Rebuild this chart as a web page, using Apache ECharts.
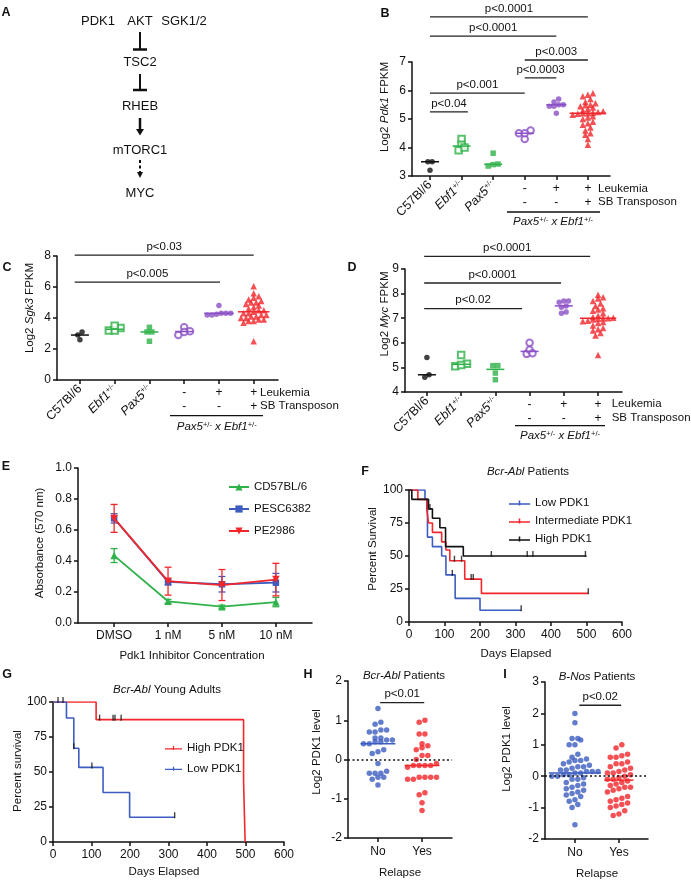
<!DOCTYPE html>
<html><head><meta charset="utf-8">
<script src="https://cdn.jsdelivr.net/npm/echarts@6/dist/echarts.min.js"></script>
<style>html,body{margin:0;padding:0;background:#fff}#c{width:691px;height:883px}</style>
</head><body><div id="c"></div>
<script>
// ================= DATA =================
const groupLabels = ['C57Bl/6', 'Ebf1', 'Pax5'];
const rowLeukemia = ['', '', '', '-', '+', '+'];
const rowSB = ['', '', '', '-', '-', '+'];

// Panel B: Log2 Pdk1 FPKM
const pdk1_C57 = [3.5, 3.5, 3.2];
const pdk1_Ebf1 = [4.3, 4.1, 3.9, 4.0];
const pdk1_Pax5 = [3.8, 3.35, 3.4, 3.42];
const pdk1_PE = [4.6, 4.5, 4.3, 4.5];
const pdk1_PELeuk = [5.7, 5.5, 5.5, 5.6, 5.45, 5.45, 5.2];
const pdk1_SB = [5.9, 5.85, 5.8, 5.7, 5.6, 5.55, 5.5, 5.48, 5.45, 5.4, 5.35, 5.3, 5.27, 5.25, 5.22, 5.2, 5.18, 5.2, 5.15, 5.1, 5.05, 5.0, 4.9, 4.85, 4.8, 4.7, 4.6, 4.5, 4.45, 4.3, 4.1];
const pdk1SigPairs = [[0, 5], [0, 4], [3, 5], [3, 4], [0, 3], [0, 1.2]];
const pdk1SigLevels = [8.58, 7.91, 7.07, 6.44, 5.91, 5.25];
const pdk1SigLabels = ['p<0.0001', 'p<0.0001', 'p<0.003', 'p<0.0003', 'p<0.001', 'p<0.04'];

// Panel C: Log2 Sgk3 FPKM
const sgk3_C57 = [3.1, 2.9, 2.6];
const sgk3_Ebf1 = [3.2, 3.35, 3.2, 3.5];
const sgk3_Pax5 = [3.4, 3.1, 3.1, 2.5];
const sgk3_PE = [3.4, 2.9, 3.15, 3.1];
const sgk3_PELeuk = [4.8, 4.3, 4.2, 4.3, 4.25, 4.2, 4.3];
const sgk3_SB = [6.05, 5.6, 5.4, 5.3, 5.2, 5.1, 5.0, 5.0, 4.9, 4.8, 4.7, 4.6, 4.5, 4.5, 4.4, 4.3, 4.3, 4.2, 4.2, 4.1, 4.1, 4.0, 4.0, 3.9, 3.9, 3.8, 3.8, 3.7, 2.5];
const sgk3SigPairs = [[-0.15, 5], [-0.15, 4.03]];
const sgk3SigLevels = [8.06, 6.32];
const sgk3SigLabels = ['p<0.03', 'p<0.005'];

// Panel D: Log2 Myc FPKM
const myc_C57 = [5.4, 4.6, 4.7];
const myc_Ebf1 = [5.5, 5.05, 5.15, 5.1];
const myc_Pax5 = [5.07, 5.07, 4.77, 4.5];
const myc_PE = [6.0, 5.55, 5.72, 5.58];
const myc_PELeuk = [7.7, 7.7, 7.65, 7.5, 7.45, 7.2, 7.25];
const myc_SB = [7.95, 7.85, 7.8, 7.7, 7.6, 7.5, 7.4, 7.35, 7.3, 7.2, 7.1, 7.05, 7.02, 7.0, 7.0, 6.98, 6.95, 6.9, 6.88, 6.85, 6.8, 6.7, 6.6, 6.55, 6.5, 6.4, 6.3, 5.5];
const mycSigPairs = [[-0.08, 4.77], [-0.08, 3.92], [-0.08, 2.78]];
const mycSigLevels = [9.51, 8.43, 7.39];
const mycSigLabels = ['p<0.0001', 'p<0.0001', 'p<0.02'];

// Panel E: absorbance
const eDoses = ['DMSO', '1 nM', '5 nM', '10 nM'];
const eNames = ['CD57BL/6', 'PESC6382', 'PE2986'];
const eCD57 = [0.435, 0.14, 0.105, 0.135];
const eCD57Err = [0.045, 0.012, 0.01, 0.03];
const ePESC = [0.675, 0.265, 0.25, 0.26];
const ePESCErr = [0.03, 0.02, 0.05, 0.06];
const ePE = [0.675, 0.27, 0.245, 0.28];
const ePEErr = [0.09, 0.09, 0.1, 0.105];

// Panel F: Bcr-Abl patients survival
const fLowT = [0, 45, 52, 66, 92, 104, 130, 200, 316];
const fLowS = [100, 92.9, 64.3, 57.1, 50, 35.7, 17.9, 8.9, 8.9];
const fLowCensT = [122, 316];
const fLowCensS = [35.7, 8.9];
const fIntT = [0, 25, 50, 55, 66, 92, 104, 115, 157, 204, 505];
const fIntS = [100, 92.9, 85.7, 75, 67.9, 60.7, 54.6, 46.4, 32.5, 21.7, 21.7];
const fIntCensT = [128, 148, 175, 181, 505];
const fIntCensS = [46.4, 46.4, 32.5, 32.5, 21.7];
const fHighT = [0, 8, 55, 66, 87, 103, 153, 500];
const fHighS = [100, 92.9, 85.7, 78.6, 71.4, 57.1, 50, 50];
const fHighCensT = [59, 232, 333, 349, 497];
const fHighCensS = [85.7, 50, 50, 50, 50];

// Panel G: Bcr-Abl young adults survival
const gHighT = [0, 112, 495, 499];
const gHighS = [100, 87.4, 43.7, 0];
const gHighCensT = [13, 26, 121, 156, 161, 177];
const gHighCensS = [100, 100, 87.4, 87.4, 87.4, 87.4];
const gLowT = [0, 35, 54, 67, 130, 199, 316];
const gLowS = [100, 88.6, 67, 53.3, 35.4, 17.7, 17.7];
const gLowCensT = [54, 101, 316];
const gLowCensS = [67, 53.3, 17.7];

// Panel H: Bcr-Abl Log2 PDK1 level by relapse
const relapseLabels = ['No', 'Yes'];
const hNo = [1.3, 0.95, 0.9, 0.75, 0.75, 0.7, 0.7, 0.55, 0.55, 0.5, 0.5, 0.45, 0.4, 0.4, 0.45, 0.25, 0.2, 0.15, -0.1, -0.3, -0.35, -0.35, -0.35, -0.45, -0.45, -0.5, -0.65];
const hYes = [1.0, 0.95, 0.65, 0.65, 0.4, 0.35, 0.3, 0.25, 0.1, 0.1, 0.0, -0.1, -0.15, -0.15, -0.15, -0.2, -0.15, -0.45, -0.45, -0.45, -0.5, -0.45, -0.5, -0.85, -0.9, -1.1, -1.3];
const hSigPairs = [[0.05, 1.05]];
const hSigLevels = [1.45];
const hSigLabels = ['p<0.01'];

// Panel I: B-Nos Log2 PDK1 level by relapse
const iNo = [2.0, 1.7, 1.2, 1.2, 1.15, 1.0, 1.0, 0.7, 0.6, 0.55, 0.5, 0.5, 0.45, 0.4, 0.35, 0.3, 0.3, 0.25, 0.2, 0.2, 0.15, 0.15, 0.15, 0.1, 0.1, 0.05, 0.05, 0.0, 0.0, -0.05, -0.1, -0.1, -0.2, -0.25, -0.3, -0.35, -0.4, -0.45, -0.5, -0.55, -0.6, -0.65, -0.75, -0.8, -0.9, -1.0, -1.55];
const iYes = [1.0, 0.9, 0.7, 0.65, 0.6, 0.6, 0.45, 0.4, 0.4, 0.3, 0.25, 0.2, 0.15, 0.1, 0.1, 0.05, 0.0, -0.05, -0.1, -0.1, -0.15, -0.2, -0.25, -0.3, -0.35, -0.35, -0.4, -0.45, -0.5, -0.65, -0.7, -0.75, -0.8, -0.85, -0.9, -0.95, -1.0, -1.1, -1.2, -1.25];
const iSigPairs = [[0.1, 1.05]];
const iSigLevels = [2.26];
const iSigLabels = ['p<0.02'];

// ================= STYLE / LAYOUT =================
const FONT = '"Liberation Sans", Arial, Helvetica, sans-serif';
const INK = '#111';
const GREEN = '#2fb24a', PURPLE = '#8a4fc4', RED = '#f2262b', BLUE = '#3c5cc0';
function fnt(size, style) { return (style ? style + ' ' : '') + size + 'px ' + FONT; }

const GEO = {
  B: {left: 412, top: 62, width: 198, height: 114, xmin: -0.57, xmax: 5.7, ymin: 3, ymax: 7, yint: 1},
  C: {left: 57, top: 256, width: 221, height: 124, xmin: -0.66, xmax: 5.7, ymin: 0, ymax: 8, yint: 2},
  D: {left: 405, top: 269, width: 217, height: 123, xmin: -0.64, xmax: 5.7, ymin: 4, ymax: 9, yint: 1},
  E: {left: 78, top: 468, width: 234, height: 155, xmin: -0.67, xmax: 3.67, ymin: 0, ymax: 1, yint: 0.2},
  F: {left: 409, top: 490, width: 213, height: 132, xmin: 0, xmax: 600, ymin: 0, ymax: 100, yint: 25},
  G: {left: 53, top: 702, width: 231, height: 140, xmin: 0, xmax: 600, ymin: 0, ymax: 100, yint: 25},
  H: {left: 348, top: 681, width: 104, height: 157, xmin: -0.68, xmax: 1.68, ymin: -2, ymax: 2, yint: 1},
  I: {left: 545, top: 682, width: 103, height: 157, xmin: -0.68, xmax: 1.66, ymin: -2, ymax: 3, yint: 1}
};
const ORDER = ['B', 'C', 'D', 'E', 'F', 'G', 'H', 'I'];

const DOT_STYLES = [
  {symbol: 'circle', color: INK, size: 5.5, bin: 0.6, dx: 0.78},
  {symbol: 'emptyRect', color: GREEN, size: 6.5, bin: 0.6, dx: 0.9},
  {symbol: 'rect', color: GREEN, size: 5.5, bin: 0.6, dx: 0.9},
  {symbol: 'emptyCircle', color: PURPLE, size: 6.5, bin: 0.6, dx: 0.9},
  {symbol: 'circle', color: PURPLE, size: 5.5, bin: 0.6, dx: 0.85},
  {symbol: 'triangle', color: RED, size: 6.5, bin: 0.6, dx: 0.78}
];
const REL_STYLES = [
  {symbol: 'circle', color: BLUE, size: 5.5, bin: 1.0, dx: 1.05},
  {symbol: 'circle', color: RED, size: 5.5, bin: 1.0, dx: 1.05}
];

const richLbl = {
  n: {fontSize: 12.5, fontFamily: FONT, color: INK},
  i: {fontSize: 12.5, fontFamily: FONT, fontStyle: 'italic', color: INK},
  s: {fontSize: 7.5, fontFamily: FONT, color: INK, verticalAlign: 'top'}
};
const richT = {
  a: {font: fnt(11.5), fill: INK},
  i: {font: fnt(11.5, 'italic'), fill: INK},
  s: {font: fnt(7.5), fill: INK, verticalAlign: 'top'}
};

// ================= HELPERS =================
function median(arr) {
  const s = arr.slice().sort((a, b) => a - b);
  const m = Math.floor(s.length / 2);
  return s.length % 2 ? s[m] : (s[m - 1] + s[m]) / 2;
}
// row-based scatter-dot layout (points with close values share a row, centred)
function rowOffsets(vals, ppy, binPx, dx) {
  const order = vals.map((v, i) => i).sort((a, b) => vals[a] - vals[b]);
  const off = new Array(vals.length).fill(0);
  let row = [];
  let rowStart = null;
  const flush = () => {
    const k = row.length;
    row.forEach((idx, j) => { off[idx] = (j - (k - 1) / 2) * dx; });
    row = [];
  };
  order.forEach(i => {
    const py = vals[i] * ppy;
    if (rowStart === null || py - rowStart > binPx) { flush(); rowStart = py; }
    row.push(i);
  });
  flush();
  return off;
}
function ppx(g) { return g.width / (g.xmax - g.xmin); }
function ppy(g) { return g.height / (g.ymax - g.ymin); }

function yAx(key, fmt) {
  const g = GEO[key];
  return {type: 'value', gridIndex: ORDER.indexOf(key), min: g.ymin, max: g.ymax, interval: g.yint,
    axisLine: {show: true, onZero: false, lineStyle: {color: INK, width: 1.5}},
    axisTick: {show: true, length: 4, lineStyle: {color: INK, width: 1.5}},
    axisLabel: {show: true, margin: 6, fontSize: 12, fontFamily: FONT, color: INK, formatter: fmt},
    splitLine: {show: false}};
}
function xMain(key, ticks, labelVals, fmt, opts) {
  const g = GEO[key];
  opts = opts || {};
  const ax = {type: 'value', gridIndex: ORDER.indexOf(key), min: g.xmin, max: g.xmax, position: 'bottom',
    axisLine: {show: true, onZero: false, lineStyle: {color: INK, width: 1.5}},
    axisTick: {show: true, length: 4, lineStyle: {color: INK, width: 1.5}},
    axisLabel: {show: true, margin: opts.margin || 7, rotate: opts.rotate || 0, fontSize: 12, fontFamily: FONT, color: INK, formatter: fmt, rich: opts.rich},
    splitLine: {show: false}};
  if (ticks) ax.axisTick.customValues = ticks;
  if (labelVals) ax.axisLabel.customValues = labelVals;
  if (opts.interval) ax.interval = opts.interval;
  return ax;
}
function xRows(key) {
  const g = GEO[key];
  return {type: 'value', gridIndex: ORDER.indexOf(key), min: g.xmin, max: g.xmax, position: 'bottom',
    axisLine: {show: false, onZero: false}, axisTick: {show: false}, splitLine: {show: false},
    axisLabel: {show: true, customValues: [3, 4, 5], margin: 6, lineHeight: 13.5, fontSize: 12, fontFamily: FONT, color: INK,
      formatter: v => rowLeukemia[v] + '\n' + rowSB[v]}};
}

function dotPanel(key, xi, yi, groups, styles) {
  const g = GEO[key];
  const px = ppx(g), py = ppy(g);
  const out = [];
  const meds = [];
  groups.forEach((vals, gi) => {
    const st = styles[gi];
    const off = rowOffsets(vals, py, st.size * st.bin, st.size * st.dx);
    const maxOff = Math.max.apply(null, off.map(Math.abs));
    meds.push([gi, median(vals), Math.max(9, maxOff + 3) / px]);
    const empty = st.symbol.indexOf('empty') === 0;
    out.push({type: 'scatter', xAxisIndex: xi, yAxisIndex: yi, symbol: st.symbol, symbolSize: st.size, silent: true, z: 2,
      itemStyle: empty ? {color: st.color, borderColor: st.color, borderWidth: 1.4} : {color: st.color},
      data: vals.map((v, i) => [gi + off[i] / px, v])});
  });
  out.push({type: 'custom', xAxisIndex: xi, yAxisIndex: yi, silent: true, z: 4, clip: false,
    data: meds,
    renderItem(params, api) {
      const c = api.value(0), m = api.value(1), hw = api.value(2);
      const a = api.coord([c - hw, m]), b = api.coord([c + hw, m]);
      return {type: 'line', shape: {x1: a[0], y1: a[1], x2: b[0], y2: b[1]},
        style: {stroke: styles[params.dataIndex].color, lineWidth: 1.5}};
    }});
  return out;
}
function sigSeries(xi, yi, pairs, levels, labels) {
  return {type: 'custom', xAxisIndex: xi, yAxisIndex: yi, clip: false, silent: true, z: 5,
    data: pairs.map((p, i) => [p[0], p[1], levels[i]]),
    renderItem(params, api) {
      const a = api.coord([api.value(0), api.value(2)]);
      const b = api.coord([api.value(1), api.value(2)]);
      return {type: 'group', children: [
        {type: 'line', shape: {x1: a[0], y1: a[1], x2: b[0], y2: b[1]}, style: {stroke: '#222', lineWidth: 1.3}},
        {type: 'text', x: (a[0] + b[0]) / 2, y: a[1] - 2.5,
          style: {text: labels[params.dataIndex], textAlign: 'center', textVerticalAlign: 'bottom', font: fnt(11.5), fill: INK}}
      ]};
    }};
}
function errSeries(xi, yi, means, errs, color) {
  return {type: 'custom', xAxisIndex: xi, yAxisIndex: yi, silent: true, z: 3, clip: false,
    data: means.map((m, i) => [i, m, errs[i]]),
    renderItem(params, api) {
      const x = api.value(0), m = api.value(1), e = api.value(2);
      const t = api.coord([x, m + e]), b = api.coord([x, m - e]);
      const cw = 3.5, st = {stroke: color, lineWidth: 1.3};
      return {type: 'group', children: [
        {type: 'line', shape: {x1: t[0], y1: t[1], x2: b[0], y2: b[1]}, style: st},
        {type: 'line', shape: {x1: t[0] - cw, y1: t[1], x2: t[0] + cw, y2: t[1]}, style: st},
        {type: 'line', shape: {x1: b[0] - cw, y1: b[1], x2: b[0] + cw, y2: b[1]}, style: st}
      ]};
    }};
}
function kmLine(name, xi, yi, T, S, color) {
  return {type: 'line', name, xAxisIndex: xi, yAxisIndex: yi, step: 'end', symbol: 'none', silent: true, z: 3,
    lineStyle: {color, width: 1.6}, itemStyle: {color},
    data: T.map((t, i) => [t, S[i]])};
}
const TICK = 'path://M0,0H1V10H0Z';
function kmCens(xi, yi, T, S) {
  return {type: 'scatter', xAxisIndex: xi, yAxisIndex: yi, symbol: TICK, symbolSize: [1.4, 6], symbolOffset: [0, -2],
    silent: true, z: 4, itemStyle: {color: INK}, data: T.map((t, i) => [t, S[i]])};
}
const KM_ICON = 'path://M0,5.2H22V6.8H0Z M10.2,2.5H11.8V7.5H10.2Z';

// ================= GRAPHICS (annotations) =================
function T(x, y, text, o) {
  o = o || {};
  const st = {text, font: fnt(o.size || 11.5, o.bold ? 'bold' : ''), fill: INK,
    textAlign: o.align || 'center', textVerticalAlign: 'middle'};
  if (o.rich) st.rich = o.rich;
  return {type: 'text', x, y, rotation: o.rot || 0, silent: true, style: st};
}
function L(x1, y1, x2, y2, w, dash) {
  const st = {stroke: INK, lineWidth: w || 1.3};
  if (dash) st.lineDash = dash;
  return {type: 'line', silent: true, shape: {x1, y1, x2, y2}, style: st};
}
function P(points) { return {type: 'polygon', silent: true, shape: {points}, style: {fill: INK}}; }
const R90 = Math.PI / 2;
const graphics = [
  // panel letters
  T(6, 13, 'A', {bold: true, size: 12.5}), T(385, 14, 'B', {bold: true, size: 12.5}),
  T(7, 268, 'C', {bold: true, size: 12.5}), T(352, 268, 'D', {bold: true, size: 12.5}),
  T(6, 467, 'E', {bold: true, size: 12.5}), T(365, 472, 'F', {bold: true, size: 12.5}),
  T(7, 675, 'G', {bold: true, size: 12.5}), T(308, 675, 'H', {bold: true, size: 12.5}),
  T(505, 675, 'I', {bold: true, size: 12.5}),
  // panel A pathway
  T(98, 21, 'PDK1', {size: 13}), T(140, 21, 'AKT', {size: 13}), T(184, 21, 'SGK1/2', {size: 13}),
  L(140, 32, 140, 49, 2), L(133, 49.5, 147, 49.5, 2.5),
  T(140, 62, 'TSC2', {size: 13}),
  L(140, 74, 140, 89.5, 2), L(133, 90, 147, 90, 2.5),
  T(140, 106, 'RHEB', {size: 13}),
  L(140, 118, 140, 130, 2.5), P([[136, 129], [144, 129], [140, 135.5]]),
  T(140, 150, 'mTORC1', {size: 13}),
  L(140, 160, 140, 173, 2, [3, 2.5]), P([[137, 172], [143, 172], [140, 178]]),
  T(140, 193, 'MYC', {size: 13}),
  // panel B annotations
  T(385, 107, '{a|Log2 }{i|Pdk1}{a| FPKM}', {rot: R90, rich: richT}),
  T(598, 189, 'Leukemia', {align: 'left'}), T(598, 202, 'SB Transposon', {align: 'left'}),
  L(507, 212, 600, 212, 1.3),
  T(553, 222, '{i|Pax5}{s|+/-}{i| x Ebf1}{s|+/-}', {rich: richT}),
  // panel C annotations
  T(30, 308, '{a|Log2 }{i|Sgk3}{a| FPKM}', {rot: R90, rich: richT}),
  T(260, 392.7, 'Leukemia', {align: 'left'}), T(260, 406, 'SB Transposon', {align: 'left'}),
  L(170, 415.7, 263, 415.7, 1.3),
  T(216.7, 426.7, '{i|Pax5}{s|+/-}{i| x Ebf1}{s|+/-}', {rich: richT}),
  // panel D annotations
  T(385, 314, '{a|Log2 }{i|Myc}{a| FPKM}', {rot: R90, rich: richT}),
  T(611.7, 404.3, 'Leukemia', {align: 'left'}), T(611.7, 418.3, 'SB Transposon', {align: 'left'}),
  L(515, 425.7, 605, 425.7, 1.3),
  T(560, 435.7, '{i|Pax5}{s|+/-}{i| x Ebf1}{s|+/-}', {rich: richT}),
  // panel E
  T(40, 543, 'Absorbance (570 nm)', {rot: R90}),
  T(192, 656, 'Pdk1 Inhibitor Concentration'),
  // panel F
  T(528, 472, '{i|Bcr-Abl}{a| Patients}', {rich: richT}),
  T(373, 549, 'Percent Survival', {rot: R90}),
  T(516, 654, 'Days Elapsed'),
  // panel G
  T(167, 690, '{i|Bcr-Abl}{a| Young Adults}', {rich: richT}),
  T(18, 771, 'Percent survival', {rot: R90}),
  T(164, 872, 'Days Elapsed'),
  // panel H
  T(404, 676, '{i|Bcr-Abl}{a| Patients}', {rich: richT}),
  T(317, 752, 'Log2 PDK1 level', {rot: R90}),
  T(400, 873, 'Relapse'),
  // panel I
  T(597, 677, '{i|B-Nos}{a| Patients}', {rich: richT}),
  T(507, 749, 'Log2 PDK1 level', {rot: R90}),
  T(597, 874, 'Relapse')
];

// ================= AXES =================
const grids = ORDER.map(k => ({left: GEO[k].left, top: GEO[k].top, width: GEO[k].width, height: GEO[k].height,
  containLabel: false, outerBoundsMode: 'none'}));
const grpFmt = v => ['{n|C57Bl/6}', '{i|Ebf1}{s|+/-}', '{i|Pax5}{s|+/-}'][v] || '';
const xAxes = [
  xMain('B', [0, 1, 2, 3, 4, 5], [0, 1, 2], grpFmt, {rotate: 45, rich: richLbl, margin: 7}), xRows('B'),
  xMain('C', [0, 1, 2, 3, 4, 5], [0, 1, 2], grpFmt, {rotate: 45, rich: richLbl, margin: 7}), xRows('C'),
  xMain('D', [0, 1, 2, 3, 4, 5], [0, 1, 2], grpFmt, {rotate: 45, rich: richLbl, margin: 7}), xRows('D'),
  xMain('E', [0, 1, 2, 3], [0, 1, 2, 3], v => eDoses[v]),
  xMain('F', null, null, null, {interval: 100}),
  xMain('G', null, null, null, {interval: 100}),
  xMain('H', [0, 1], [0, 1], v => relapseLabels[v], {margin: 8}),
  xMain('I', [0, 1], [0, 1], v => relapseLabels[v], {margin: 8})
];
const yAxes = [
  yAx('B'), yAx('C'), yAx('D'), yAx('E', v => v.toFixed(1)), yAx('F'), yAx('G'), yAx('H'), yAx('I')
];

// ================= SERIES =================
let series = [];
series = series.concat(dotPanel('B', 0, 0, [pdk1_C57, pdk1_Ebf1, pdk1_Pax5, pdk1_PE, pdk1_PELeuk, pdk1_SB], DOT_STYLES));
series.push(sigSeries(0, 0, pdk1SigPairs, pdk1SigLevels, pdk1SigLabels));
series = series.concat(dotPanel('C', 2, 1, [sgk3_C57, sgk3_Ebf1, sgk3_Pax5, sgk3_PE, sgk3_PELeuk, sgk3_SB], DOT_STYLES));
series.push(sigSeries(2, 1, sgk3SigPairs, sgk3SigLevels, sgk3SigLabels));
series = series.concat(dotPanel('D', 4, 2, [myc_C57, myc_Ebf1, myc_Pax5, myc_PE, myc_PELeuk, myc_SB], DOT_STYLES));
series.push(sigSeries(4, 2, mycSigPairs, mycSigLevels, mycSigLabels));

// E
const eSets = [[eCD57, eCD57Err, GREEN, 'triangle', 0], [ePESC, ePESCErr, BLUE, 'rect', 0], [ePE, ePEErr, RED, 'triangle', 180]];
eSets.forEach((s, k) => {
  series.push({type: 'line', name: eNames[k], xAxisIndex: 6, yAxisIndex: 3, symbol: s[3], symbolRotate: s[4],
    symbolSize: s[3] === 'rect' ? 6.5 : 7.5, silent: true, z: 4 + k,
    lineStyle: {color: s[2], width: 1.8}, itemStyle: {color: s[2]},
    data: s[0].map((m, i) => [i, m])});
  series.push(errSeries(6, 3, s[0], s[1], s[2]));
});

// F
series.push(kmLine('Low PDK1', 7, 4, fLowT, fLowS, BLUE));
series.push(kmLine('Intermediate PDK1', 7, 4, fIntT, fIntS, RED));
series.push(kmLine('High PDK1', 7, 4, fHighT, fHighS, INK));
series.push(kmCens(7, 4, fLowCensT, fLowCensS));
series.push(kmCens(7, 4, fIntCensT, fIntCensS));
series.push(kmCens(7, 4, fHighCensT, fHighCensS));
// G
series.push(kmLine('High PDK1 ', 8, 5, gHighT, gHighS, RED));
series.push(kmLine('Low PDK1 ', 8, 5, gLowT, gLowS, BLUE));
series.push(kmCens(8, 5, gHighCensT, gHighCensS));
series.push(kmCens(8, 5, gLowCensT, gLowCensS));

// H / I
function relPanel(key, xi, yi, no, yes, pairs, levels, labels) {
  const s = dotPanel(key, xi, yi, [no, yes], REL_STYLES);
  s[0].markLine = {silent: true, symbol: 'none', label: {show: false},
    lineStyle: {color: INK, type: [2, 2.5], width: 1.5}, data: [{yAxis: 0}]};
  s[0].z = 1;
  return s.concat([sigSeries(xi, yi, pairs, levels, labels)]);
}
series = series.concat(relPanel('H', 9, 6, hNo, hYes, hSigPairs, hSigLevels, hSigLabels));
series = series.concat(relPanel('I', 10, 7, iNo, iYes, iSigPairs, iSigLevels, iSigLabels));

const legendText = {fontSize: 11.5, fontFamily: FONT, color: INK};
const option = {
  animation: false,
  backgroundColor: '#fff',
  textStyle: {fontFamily: FONT},
  grid: grids,
  xAxis: xAxes,
  yAxis: yAxes,
  legend: [
    {left: 223, top: 476, orient: 'vertical', itemWidth: 20, itemHeight: 9, itemGap: 10, selectedMode: false,
      textStyle: legendText, data: eNames},
    {left: 504, top: 492, orient: 'vertical', itemWidth: 21, itemHeight: 11, itemGap: 6, selectedMode: false,
      textStyle: legendText,
      data: [{name: 'Low PDK1', icon: KM_ICON, itemStyle: {color: BLUE}},
             {name: 'Intermediate PDK1', icon: KM_ICON, itemStyle: {color: RED}},
             {name: 'High PDK1', icon: KM_ICON, itemStyle: {color: INK}}]},
    {left: 160, top: 737, orient: 'vertical', itemWidth: 17, itemHeight: 12, itemGap: 8.7, selectedMode: false,
      textStyle: legendText,
      data: [{name: 'High PDK1 ', icon: KM_ICON, itemStyle: {color: RED}},
             {name: 'Low PDK1 ', icon: KM_ICON, itemStyle: {color: BLUE}}]}
  ],
  graphic: graphics,
  series
};
const chart = echarts.init(document.getElementById('c'), null, {renderer: 'canvas', width: 691, height: 883});
chart.setOption(option);
</script>
</body></html>
